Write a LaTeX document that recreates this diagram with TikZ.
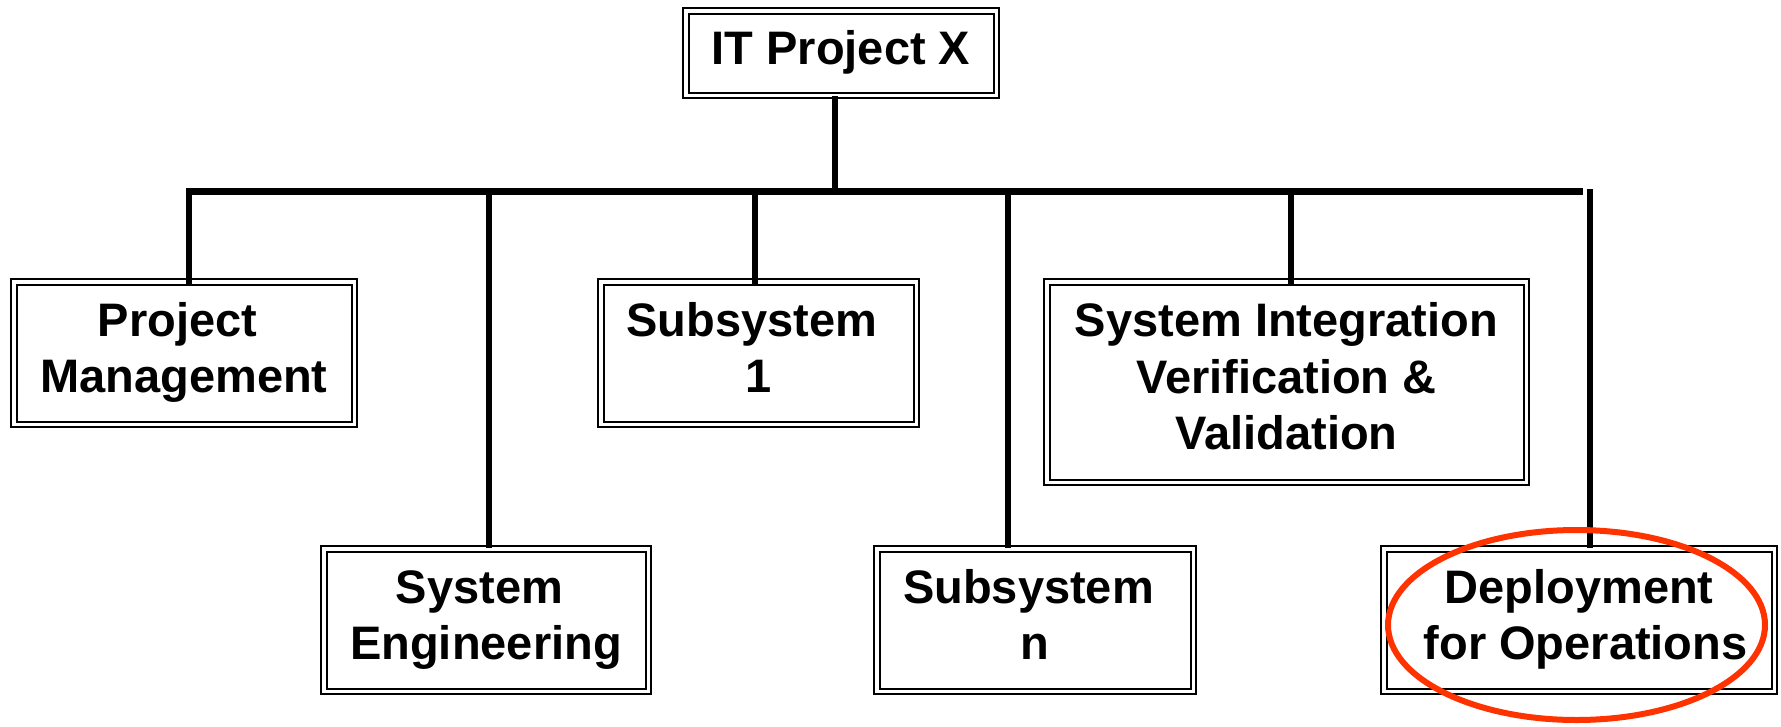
\documentclass[tikz,border=0pt]{standalone}
\usepackage{fontspec}
\setmainfont{Liberation Sans}
\definecolor{hlred}{RGB}{255,51,0}
\newcommand{\tsp}{\hbox to 0.278em{}}
\begin{document}
\begin{tikzpicture}[x=1pt,y=-1pt,
  box/.style={draw=black, double=white, double distance=3.5pt, line width=2pt,
    align=center, inner sep=0pt, font=\fontsize{47}{56.5}\selectfont\bfseries,
    minimum height=142.5pt},
  conn/.style={line width=6pt, line cap=butt},
  barline/.style={line width=7pt, line cap=butt},
  hl/.style={draw=hlred, line width=6pt}]
\useasboundingbox (0,0) rectangle (1781,726);

% nodes
\node[box, minimum width=310.5pt, minimum height=84.5pt] (top) at (841,53) {\strut IT Project X};
\node[box, minimum width=340.5pt] (pm) at (184,353) {\strut Project\tsp\\\strut Management};
\node[box, minimum width=324.5pt] (se) at (486,620) {\strut System\tsp\\\strut Engineering};
\node[box, minimum width=315.5pt] (s1) at (758.5,353) {\strut Subsystem\tsp\\\strut 1};
\node[box, minimum width=316.5pt] (sn) at (1035,620) {\strut Subsystem\tsp\\\strut n};
\node[box, minimum width=479.5pt, minimum height=200.5pt] (sv) at (1286.5,382)
  {\strut System Integration\\\strut Verification \&\\\strut Validation};
\node[box, minimum width=390.5pt] (dep) at (1579,620) {\strut Deployment\\\strut\tsp for Operations};

% junctions on the bar
\coordinate (jtop) at (835,191.5);
\coordinate (jpm) at (189,191.5);
\coordinate (jse) at (489,191.5);
\coordinate (js1) at (755,191.5);
\coordinate (jsn) at (1008,191.5);
\coordinate (jsv) at (1291,191.5);
\coordinate (jend) at (1583,191.5);
\coordinate (jdep) at (1590,189);

% connectors
\draw[conn] (jtop |- top.south) -- (jtop);
\draw[barline] ([xshift=-3pt]jpm) -- (jend);
\draw[conn] (jpm) -- (jpm |- pm.north) -- ++(0,5);
\draw[conn] (js1) -- (js1 |- s1.north) -- ++(0,5);
\draw[conn] (jsv) -- (jsv |- sv.north) -- ++(0,5);
\draw[conn] (jse) -- (jse |- se.north);
\draw[conn] (jsn) -- (jsn |- sn.north);
\draw[conn] (jdep) -- (jdep |- dep.north);

% highlight
\draw[hl] (1576.5,625) ellipse [x radius=188.5, y radius=95];
\end{tikzpicture}
\end{document}
